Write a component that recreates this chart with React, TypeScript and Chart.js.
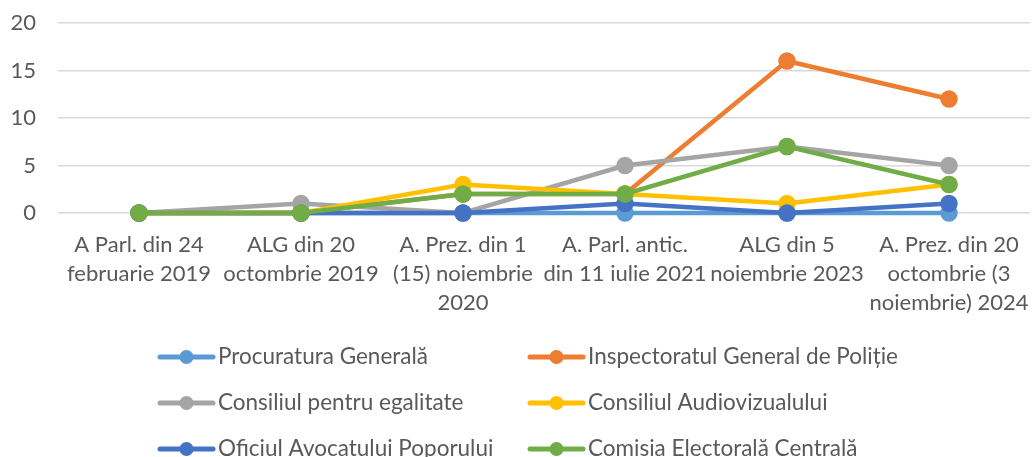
import React, { useEffect, useRef } from "react";
import { Chart, registerables } from "chart.js";

Chart.register(...registerables);

const categories: string[][] = [
  ["A Parl. din 24", "februarie 2019"],
  ["ALG din 20", "octombrie 2019"],
  ["A. Prez. din 1", "(15) noiembrie", "2020"],
  ["A. Parl. antic.", "din 11 iulie 2021"],
  ["ALG din 5", "noiembrie 2023"],
  ["A. Prez. din 20", "octombrie (3", "noiembrie) 2024"],
];

const procuraturaGenerala = [0, 0, 0, 0, 0, 0];
const inspectoratulPolitie = [0, 0, 2, 2, 16, 12];
const consiliulEgalitate = [0, 1, 0, 5, 7, 5];
const consiliulAudiovizualului = [0, 0, 3, 2, 1, 3];
const oficiulAvocatului = [0, 0, 0, 1, 0, 1];
const comisiaElectorala = [0, 0, 2, 2, 7, 3];

const seriesNames = [
  "Procuratura Generală",
  "Inspectoratul General de Poliție",
  "Consiliul pentru egalitate",
  "Consiliul Audiovizualului",
  "Oficiul Avocatului Poporului",
  "Comisia Electorală Centrală",
];
const seriesValues = [
  procuraturaGenerala,
  inspectoratulPolitie,
  consiliulEgalitate,
  consiliulAudiovizualului,
  oficiulAvocatului,
  comisiaElectorala,
];
const seriesColors = ["#5B9BD5", "#ED7D31", "#A5A5A5", "#FFC000", "#4472C4", "#70AD47"];

const yTicks = [0, 5, 10, 15, 20];

const FONT = "Lato, 'Liberation Sans', sans-serif";
const TEXT = "#595959";

const legendPlugin = {
  id: "twoColLegend",
  afterDraw(chart: any) {
    const ctx = chart.ctx;
    ctx.save();
    ctx.font = `22.5px ${FONT}`;
    ctx.textBaseline = "middle";
    ctx.textAlign = "left";
    const colX = [160, 530];
    const rowY = [357, 403, 449];
    chart.data.datasets.forEach((ds: any, i: number) => {
      const x0 = colX[i % 2];
      const y = rowY[Math.floor(i / 2)];
      ctx.strokeStyle = ds.borderColor;
      ctx.lineWidth = 5;
      ctx.lineCap = "round";
      ctx.beginPath();
      ctx.moveTo(x0, y);
      ctx.lineTo(x0 + 53, y);
      ctx.stroke();
      ctx.fillStyle = ds.borderColor;
      ctx.beginPath();
      ctx.arc(x0 + 26.5, y, 7, 0, Math.PI * 2);
      ctx.fill();
      ctx.fillStyle = TEXT;
      ctx.fillText(ds.label, x0 + 58, y);
    });
    ctx.restore();
  },
};

export default function App() {
  const ref = useRef<HTMLCanvasElement | null>(null);
  useEffect(() => {
    if (!ref.current) return;
    const chart = new Chart(ref.current, {
      type: "line",
      data: {
        labels: categories as any,
        datasets: seriesNames.map((name, i) => ({
          label: name,
          data: seriesValues[i],
          borderColor: seriesColors[i],
          backgroundColor: seriesColors[i],
          pointBackgroundColor: seriesColors[i],
          pointBorderColor: seriesColors[i],
          borderWidth: 4.5,
          pointRadius: 6.5,
          pointHoverRadius: 6.5,
          tension: 0,
          fill: false,
          clip: false,
          order: seriesNames.length - i,
        })),
      },
      options: {
        animation: false,
        responsive: true,
        maintainAspectRatio: false,
        layout: { autoPadding: false, padding: { top: 23, right: 2, bottom: 124, left: 0 } },
        plugins: {
          legend: { display: false },
          tooltip: { enabled: false },
        },
        scales: {
          x: {
            type: "category",
            offset: true,
            grid: { display: false, drawTicks: false },
            border: { display: false },
            ticks: {
              color: TEXT,
              font: { family: FONT, size: 22, lineHeight: 1.3 },
              padding: 18,
              maxRotation: 0,
              minRotation: 0,
              autoSkip: false,
            },
            afterFit: (scale: any) => {
              scale.height = 120;
              scale.paddingLeft = 0;
              scale.paddingRight = 0;
            },
          },
          y: {
            min: 0,
            max: 20,
            afterBuildTicks: (scale: any) => {
              scale.ticks = yTicks.map((v) => ({ value: v }));
            },
            grid: { color: "#D9D9D9", lineWidth: 1.5, drawTicks: false },
            border: { display: false },
            ticks: {
              color: TEXT,
              font: { family: FONT, size: 22 },
              padding: 22,
            },
            afterFit: (scale: any) => {
              scale.width = 58;
              scale.paddingTop = 0;
              scale.paddingBottom = 0;
            },
          },
        },
      },
      plugins: [legendPlugin],
    });
    return () => chart.destroy();
  }, []);
  return (
    <div style={{ position: "absolute", left: 0, top: 0, width: 1032, height: 457, background: "#fff" }}>
      <canvas ref={ref} />
    </div>
  );
}
